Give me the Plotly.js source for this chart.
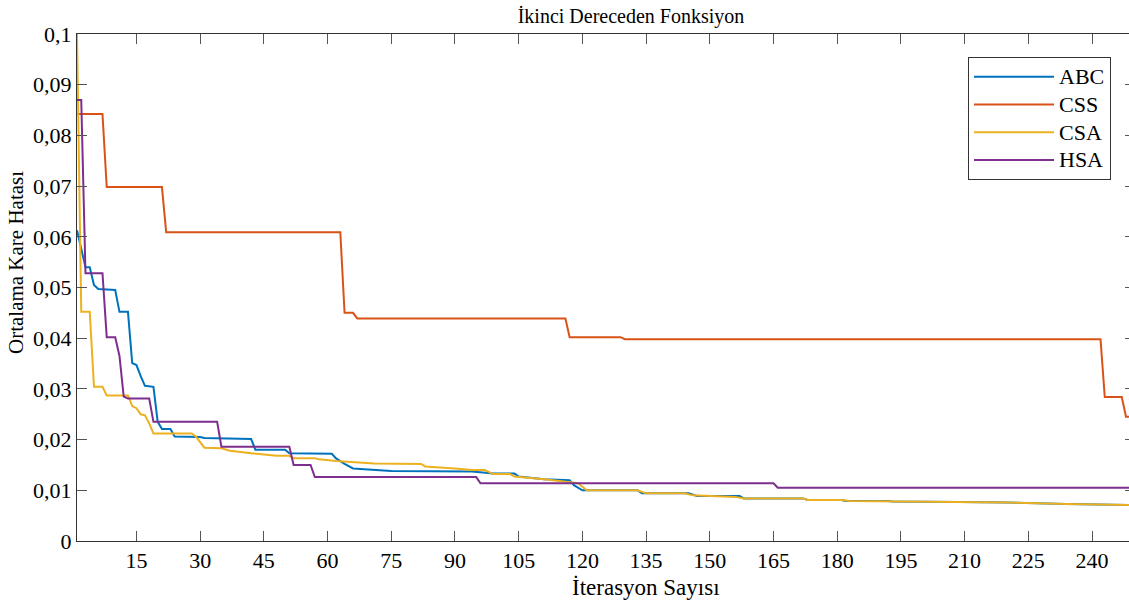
<!DOCTYPE html>
<html>
<head>
<meta charset="utf-8">
<script src="https://cdn.plot.ly/plotly-3.0.1.min.js"></script>
<style>html,body{margin:0;padding:0;background:#fff;overflow:hidden;width:1129px;height:603px;}#chart{width:1135px;height:603px;}</style>
</head>
<body>
<div id="chart"></div>
<script>
// Series names
var seriesNames = ["ABC", "CSS", "CSA", "HSA"];

// ABC breakpoints (iteration, value)
var abcX = [1, 2, 3, 4, 5, 6, 10, 11, 13, 14, 15, 16, 17, 19, 20, 21, 23, 24, 30, 31, 42, 43, 50, 51, 58, 61, 62, 64, 66, 69, 75, 94, 96, 99, 104, 105, 111, 117, 118, 120, 133, 134, 145, 147, 157, 158, 172, 173, 181, 182, 192, 193, 209, 220, 234, 246, 250];
var abcY = [0.0613, 0.0575, 0.054, 0.054, 0.0505, 0.0497, 0.0495, 0.0452, 0.0452, 0.0351, 0.0347, 0.0325, 0.0306, 0.0304, 0.0235, 0.0221, 0.0221, 0.0206, 0.0205, 0.0203, 0.0201, 0.018, 0.018, 0.0173, 0.0173, 0.0172, 0.0163, 0.0152, 0.0143, 0.0141, 0.0138, 0.0137, 0.0135, 0.0133, 0.0133, 0.0127, 0.0122, 0.012, 0.011, 0.01, 0.01, 0.0094, 0.0094, 0.0089, 0.0089, 0.0084, 0.0084, 0.0081, 0.0081, 0.0079, 0.0079, 0.0078, 0.0077, 0.0076, 0.0073, 0.0071, 0.0071];

// CSS breakpoints
var cssX = [1, 7, 8, 21, 22, 63, 64, 66, 67, 116, 117, 129, 130, 242, 243, 247, 248, 250];
var cssY = [0.0842, 0.0842, 0.0698, 0.0698, 0.0609, 0.0609, 0.045, 0.045, 0.0439, 0.0439, 0.0402, 0.0402, 0.0398, 0.0398, 0.0284, 0.0284, 0.0245, 0.0245];

// CSA breakpoints
var csaX = [1, 2, 4, 5, 7, 8, 13, 14, 15, 16, 17, 18, 19, 28, 29, 31, 35, 37, 41, 45, 48, 51, 52, 57, 58, 62, 67, 71, 82, 83, 90, 94, 97, 99, 103, 104, 111, 117, 119, 121, 133, 135, 144, 146, 156, 158, 172, 173, 181, 183, 193, 209, 220, 234, 246, 250];
var csaY = [0.1, 0.0452, 0.0452, 0.0304, 0.0304, 0.0287, 0.0287, 0.0266, 0.0262, 0.025, 0.0248, 0.0232, 0.0212, 0.0212, 0.0206, 0.0184, 0.0183, 0.0178, 0.0174, 0.017, 0.0168, 0.0168, 0.0163, 0.0163, 0.0161, 0.0158, 0.0156, 0.0153, 0.0152, 0.0147, 0.0143, 0.014, 0.014, 0.0132, 0.0132, 0.0127, 0.0122, 0.0117, 0.0114, 0.01, 0.01, 0.0094, 0.0094, 0.009, 0.0087, 0.0084, 0.0084, 0.0081, 0.0081, 0.0079, 0.0078, 0.0077, 0.0076, 0.0073, 0.0071, 0.0071];

// HSA breakpoints
var hsaX = [1, 2, 3, 7, 8, 10, 11, 12, 13, 18, 19, 34, 35, 51, 52, 56, 57, 95, 96, 165, 166, 250];
var hsaY = [0.087, 0.087, 0.0528, 0.0528, 0.0402, 0.0402, 0.0365, 0.0285, 0.0281, 0.0281, 0.0235, 0.0235, 0.0186, 0.0186, 0.015, 0.015, 0.0126, 0.0126, 0.0114, 0.0114, 0.0105, 0.0105];

// Tick labels
var xTickVals = [15, 30, 45, 60, 75, 90, 105, 120, 135, 150, 165, 180, 195, 210, 225, 240];
var yTickVals = [0, 0.01, 0.02, 0.03, 0.04, 0.05, 0.06, 0.07, 0.08, 0.09, 0.1];
var yTickText = ["0", "0,01", "0,02", "0,03", "0,04", "0,05", "0,06", "0,07", "0,08", "0,09", "0,1"];

var titleText = "İkinci Dereceden Fonksiyon";
var xTitleText = "İterasyon Sayısı";
var yTitleText = "Ortalama Kare Hatası";

var colors = ["#0072BD", "#D95319", "#EDB120", "#7E2F8E"];
var xs = [abcX, cssX, csaX, hsaX];
var ys = [abcY, cssY, csaY, hsaY];

var traces = seriesNames.map(function (n, i) {
  return {
    x: xs[i], y: ys[i], name: '<span style="font-size:22px">' + n + '</span>',
    type: "scatter", mode: "lines",
    line: {color: colors[i], width: 2},
    hoverinfo: "x+y"
  };
});

var font = "Liberation Serif, Times New Roman, serif";
var W = 1135, L = 77, PW = W - L;

var layout = {
  width: W, height: 603,
  margin: {l: L, r: 0, t: 34, b: 62, pad: 0},
  paper_bgcolor: "#fff", plot_bgcolor: "#fff",
  font: {family: font, size: 22, color: "#000"},
  title: {text: titleText, font: {family: font, size: 20, color: "#000"},
          x: 631 / W, xanchor: "center", y: 1 - 16 / 603, yanchor: "middle", xref: "container", yref: "container"},
  xaxis: {
    range: [1, 1 + PW / 4.247], tickmode: "array", tickvals: xTickVals,
    ticks: "inside", ticklen: 10, tickcolor: "#555", tickwidth: 1,
    showline: true, linecolor: "#333", linewidth: 1, mirror: "ticks",
    showgrid: false, zeroline: false,
    tickfont: {family: font, size: 22, color: "#000"}
  },
  yaxis: {
    range: [0, 0.1], tickmode: "array", tickvals: yTickVals, ticktext: yTickText,
    ticks: "inside", ticklen: 10, tickcolor: "#555", tickwidth: 1,
    showline: true, linecolor: "#333", linewidth: 1, mirror: "ticks",
    showgrid: false, zeroline: false,
    tickfont: {family: font, size: 22, color: "#000"}
  },
  showlegend: true,
  legend: {
    x: (1111 - L) / PW, xanchor: "right", y: (541 - 57) / 507, yanchor: "top",
    bgcolor: "#fff", bordercolor: "#333", borderwidth: 1,
    font: {family: font, size: 19, color: "#000"},
    itemwidth: 80, tracegroupgap: 0
  },
  annotations: [
    {text: xTitleText, xref: "paper", yref: "paper", x: (646 - L) / PW, y: (541 - 587) / 507,
     xanchor: "center", yanchor: "middle", showarrow: false, font: {family: font, size: 23, color: "#000"}},
    {text: yTitleText, xref: "paper", yref: "paper", x: (16 - L) / PW, y: (541 - 263) / 507,
     xanchor: "center", yanchor: "middle", showarrow: false, textangle: -90, font: {family: font, size: 21, color: "#000"}}
  ]
};

Plotly.newPlot("chart", traces, layout, {displayModeBar: false, staticPlot: true});
</script>
</body>
</html>
